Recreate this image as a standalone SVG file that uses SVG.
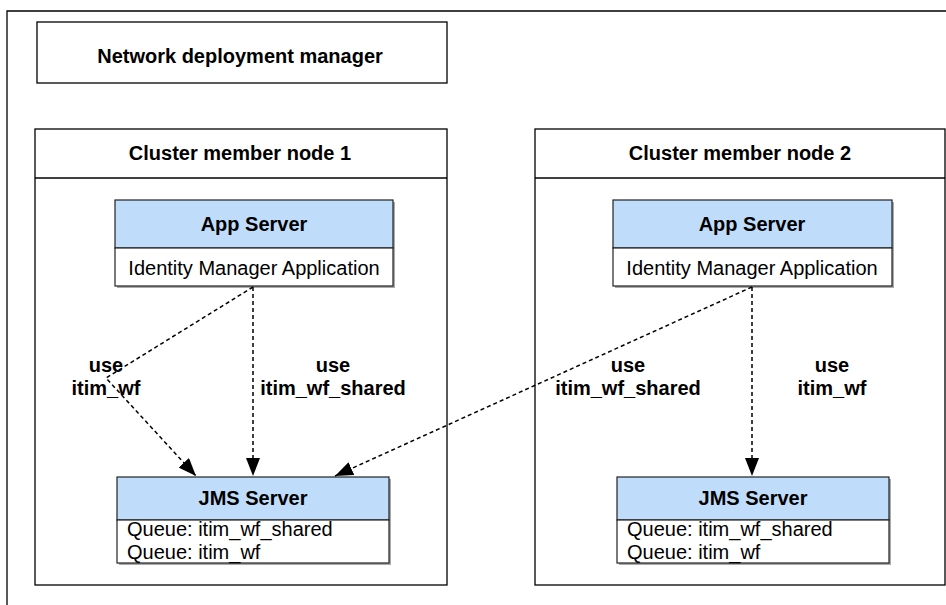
<svg xmlns="http://www.w3.org/2000/svg" width="946" height="605" viewBox="0 0 946 605">
<style>
  .frame{fill:#fff;stroke:#000;stroke-width:1.3}
  .box{fill:#fff;stroke:#222;stroke-width:1.2}
  .hdr{fill:#BFDDFB;stroke:#222;stroke-width:1.2}
  .shadow{fill:#aaa}
  .b{font-family:"Liberation Sans",Arial,sans-serif;font-weight:bold;font-size:20px;fill:#000}
  .r{font-family:"Liberation Sans",Arial,sans-serif;font-size:20px;fill:#000}
  .c{text-anchor:middle}
  .conn{fill:none;stroke:#000;stroke-width:1.5;stroke-dasharray:4 3}
</style>
<defs>
  <marker id="arr" viewBox="0 0 18 14" refX="18" refY="7" markerWidth="18" markerHeight="14" markerUnits="userSpaceOnUse" orient="auto">
    <path d="M0,0 L18,7 L0,14 Z" fill="#000"/>
  </marker>
</defs>
<rect width="946" height="605" fill="#fff"/>
<path d="M7,605 V11 H946" fill="none" stroke="#000" stroke-width="1.3"/>

<g id="ndm">
  <rect x="37" y="22" width="410" height="61" class="frame"/>
  <text x="240" y="63" class="b c">Network deployment manager</text>
</g>

<g id="node1">
  <rect x="35" y="129" width="412" height="456" class="frame"/>
  <line x1="35" y1="178" x2="447" y2="178" stroke="#000" stroke-width="1.3"/>
  <text x="240" y="160" class="b c">Cluster member node 1</text>
</g>

<g id="node2">
  <rect x="535" y="129" width="410" height="456" class="frame"/>
  <line x1="535" y1="178" x2="945" y2="178" stroke="#000" stroke-width="1.3"/>
  <text x="740" y="160" class="b c">Cluster member node 2</text>
</g>

<g id="app1">
  <rect x="117" y="202" width="278" height="86" class="shadow"/>
  <rect x="115" y="200" width="278" height="48" class="hdr"/>
  <rect x="115" y="248" width="278" height="38" class="box"/>
  <text x="254" y="231" class="b c">App Server</text>
  <text x="254" y="275" class="r c">Identity Manager Application</text>
</g>

<g id="app2">
  <rect x="615" y="202" width="279" height="86" class="shadow"/>
  <rect x="613" y="200" width="279" height="48" class="hdr"/>
  <rect x="613" y="248" width="279" height="38" class="box"/>
  <text x="752" y="231" class="b c">App Server</text>
  <text x="752" y="275" class="r c">Identity Manager Application</text>
</g>

<g id="jms1">
  <rect x="119" y="479" width="272" height="86" class="shadow"/>
  <rect x="117" y="477" width="272" height="43" class="hdr"/>
  <rect x="117" y="520" width="272" height="43" class="box"/>
  <text x="253" y="505" class="b c">JMS Server</text>
  <text x="127" y="536" class="r">Queue: itim_wf_shared</text>
  <text x="127" y="559" class="r">Queue: itim_wf</text>
</g>

<g id="jms2">
  <rect x="619" y="479" width="272" height="86" class="shadow"/>
  <rect x="617" y="477" width="272" height="43" class="hdr"/>
  <rect x="617" y="520" width="272" height="43" class="box"/>
  <text x="753" y="505" class="b c">JMS Server</text>
  <text x="627" y="536" class="r">Queue: itim_wf_shared</text>
  <text x="627" y="559" class="r">Queue: itim_wf</text>
</g>

<g id="connectors">
  <polyline points="253,287 106,378 196,476" class="conn" marker-end="url(#arr)"/>
  <line x1="253" y1="287" x2="253" y2="476" class="conn" marker-end="url(#arr)"/>
  <line x1="752" y1="287" x2="335" y2="476" class="conn" marker-end="url(#arr)"/>
  <line x1="752" y1="287" x2="752" y2="476" class="conn" marker-end="url(#arr)"/>
</g>

<g id="labels">
  <text x="106" y="372" class="b c">use</text>
  <text x="106" y="395" class="b c">itim_wf</text>
  <text x="333" y="372" class="b c">use</text>
  <text x="333" y="395" class="b c">itim_wf_shared</text>
  <text x="628" y="372" class="b c">use</text>
  <text x="628" y="395" class="b c">itim_wf_shared</text>
  <text x="832" y="372" class="b c">use</text>
  <text x="832" y="395" class="b c">itim_wf</text>
</g>
</svg>
